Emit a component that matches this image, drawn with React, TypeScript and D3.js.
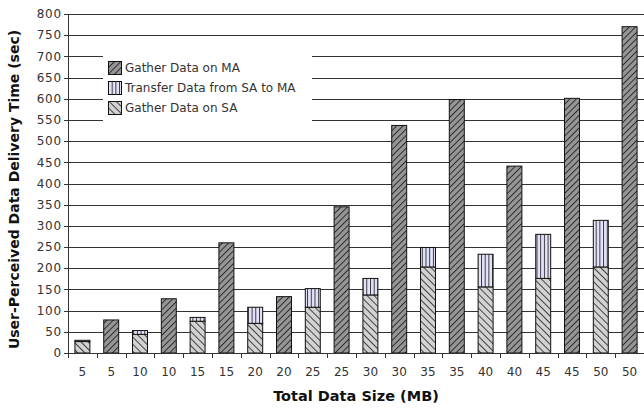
import * as d3 from "d3";
import React from "react";

// data sizes (MB), each size has an SA bar followed by an MA bar
const sizes = [5, 10, 15, 20, 25, 30, 35, 40, 45, 50];
const gatherSA = [27, 44, 75, 70, 108, 137, 203, 156, 176, 203];
const transferSAtoMA = [3, 9, 9, 38, 44, 39, 46, 77, 104, 110];
const gatherMA = [78, 128, 260, 133, 345, 537, 598, 441, 601, 770];
const yTicks = d3.range(0, 801, 50);

const legendItems = [
    { label: "Gather Data on MA", fill: "url(#patMA)" },
    { label: "Transfer Data from SA to MA", fill: "url(#patTR)" },
    { label: "Gather Data on SA", fill: "url(#patSA)" },
];

const App = () => {
    const width = 644;
    const height = 409;
    const left = 68;
    const right = 644;
    const top = 14;
    const bottom = 353;

    const bars = sizes.flatMap((s, i) => [
        { key: `sa${i}`, label: s, segs: [
            { y0: 0, y1: gatherSA[i], fill: "url(#patSA)" },
            { y0: gatherSA[i], y1: gatherSA[i] + transferSAtoMA[i], fill: "url(#patTR)" },
        ] },
        { key: `ma${i}`, label: s, segs: [
            { y0: 0, y1: gatherMA[i], fill: "url(#patMA)" },
        ] },
    ]);

    const x = d3.scaleBand<number>()
        .domain(d3.range(bars.length))
        .range([left, right])
        .paddingInner(0.48)
        .paddingOuter(0.24);
    const y = d3.scaleLinear().domain([0, 800]).range([bottom, top]);
    const step = x.step();
    const font = "DejaVu Sans, sans-serif";

    return (
        <svg width={width} height={height} style={{ position: "absolute", left: 0, top: 0 }}>
            <defs>
                <pattern id="patMA" patternUnits="userSpaceOnUse" width={4.5} height={4.5} patternTransform="rotate(45)">
                    <rect width={4.5} height={4.5} fill="#969696" />
                    <line x1={0.5} y1={0} x2={0.5} y2={4.5} stroke="#222" strokeWidth={0.9} />
                </pattern>
                <pattern id="patSA" patternUnits="userSpaceOnUse" width={5} height={5} patternTransform="rotate(-45)">
                    <rect width={5} height={5} fill="#d2d2d2" />
                    <line x1={0.5} y1={0} x2={0.5} y2={5} stroke="#333" strokeWidth={0.9} />
                </pattern>
                <pattern id="patTR" patternUnits="userSpaceOnUse" width={3.7} height={4}>
                    <rect width={3.7} height={4} fill="#e2e2f8" />
                    <line x1={0.5} y1={0} x2={0.5} y2={4} stroke="#222" strokeWidth={0.9} />
                </pattern>
            </defs>

            {yTicks.map((t) => (
                <g key={t}>
                    {t > 0 && (
                        <line x1={left} x2={right} y1={Math.round(y(t)) + 0.5} y2={Math.round(y(t)) + 0.5}
                            stroke="#333" strokeWidth={1} />
                    )}
                    <line x1={left - 4} x2={left} y1={Math.round(y(t)) + 0.5} y2={Math.round(y(t)) + 0.5} stroke="#333" />
                    <text x={left - 6} y={y(t)} dy="0.35em" textAnchor="end" fontFamily={font} fontSize={12}
                        fill="#333" letterSpacing={0.8}>{t}</text>
                </g>
            ))}

            {/* legend */}
            <rect x={103} y={39} width={209} height={90} fill="#fff" />
            {legendItems.map((d, i) => (
                <g key={d.label} transform={`translate(108, ${61 + i * 20})`}>
                    <rect x={0.5} y={0.5} width={13} height={13} fill={d.fill} stroke="#111" />
                    <text x={17} y={7} dy="0.35em" fontFamily={font} fontSize={12} fill="#333">{d.label}</text>
                </g>
            ))}

            {bars.map((b, i) => (
                <g key={b.key}>
                    {b.segs.map((s, j) => (
                        <rect key={j} x={x(i)} y={y(s.y1)} width={x.bandwidth()} height={y(s.y0) - y(s.y1)}
                            fill={s.fill} stroke="#111" strokeWidth={1} />
                    ))}
                </g>
            ))}

            {/* axes */}
            <line x1={left + 0.5} x2={left + 0.5} y1={top} y2={bottom} stroke="#333" />
            <line x1={left} x2={right} y1={bottom + 0.5} y2={bottom + 0.5} stroke="#333" />
            {d3.range(bars.length).map((i) => (
                <g key={i}>
                    <line x1={Math.round(left + i * step) + 0.5} x2={Math.round(left + i * step) + 0.5}
                        y1={bottom} y2={bottom + 5} stroke="#333" />
                    <text x={(x(i) ?? 0) + x.bandwidth() / 2} y={372} dy="0.35em" textAnchor="middle"
                        fontFamily={font} fontSize={12} fill="#333">{bars[i].label}</text>
                </g>
            ))}

            <text transform={`translate(19, ${(top + bottom) / 2 + 6}) rotate(-90)`} textAnchor="middle"
                fontFamily={font} fontSize={14} fontWeight="bold" fill="#111">
                User-Perceived Data Delivery Time (sec)
            </text>
            <text x={356} y={401} textAnchor="middle" fontFamily={font} fontSize={14.5} fontWeight="bold" fill="#111">
                Total Data Size (MB)
            </text>
        </svg>
    );
};

export default App;
